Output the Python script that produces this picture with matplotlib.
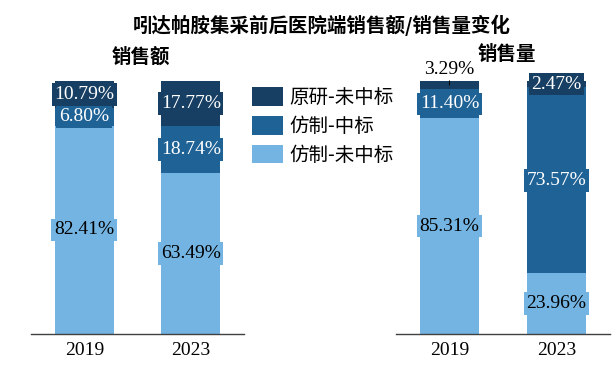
import matplotlib
matplotlib.use("Agg")
import matplotlib.pyplot as plt
import numpy as np
from matplotlib.patches import Patch

plt.rcParams['font.family'] = ['Liberation Serif', 'Noto Sans CJK SC', 'DejaVu Sans']

years = ["2019", "2023"]
series_names = ["原研-未中标", "仿制-中标", "仿制-未中标"]
# values in %, stacked top (原研-未中标) -> bottom (仿制-未中标)
sales_value_orig = [10.79, 17.77]
sales_value_gen_win = [6.80, 18.74]
sales_value_gen_lose = [82.41, 63.49]
sales_vol_orig = [3.29, 2.47]
sales_vol_gen_win = [11.40, 73.57]
sales_vol_gen_lose = [85.31, 23.96]

title = "吲达帕胺集采前后医院端销售额/销售量变化"
panel_titles = ["销售额", "销售量"]

c_dark = "#173F63"
c_mid = "#1F6296"
c_light = "#74B4E2"

fig = plt.figure(figsize=(6.16, 3.80), dpi=100)
ax1 = fig.add_axes([31/616, 1-334/380, 213/616, 253/380])
ax2 = fig.add_axes([396/616, 1-334/380, 214/616, 253/380])

W = 0.55
FS = 14
cjk = ['Noto Sans CJK SC']

def draw(ax, orig, win, lose, small_top_outside):
    x = np.arange(len(years))
    lose = np.array(lose); win = np.array(win); orig = np.array(orig)
    ax.bar(x, lose, W, color=c_light, label=series_names[2])
    ax.bar(x, win, W, bottom=lose, color=c_mid, label=series_names[1])
    ax.bar(x, orig, W, bottom=lose + win, color=c_dark, label=series_names[0])
    for i in range(len(x)):
        ax.text(x[i], lose[i] / 2, f"{lose[i]:.2f}%", ha='center', va='center',
                fontsize=FS, color='black',
                bbox=dict(facecolor=c_light, edgecolor='none', pad=2))
        ax.text(x[i], lose[i] + win[i] / 2, f"{win[i]:.2f}%", ha='center', va='center',
                fontsize=FS, color='white',
                bbox=dict(facecolor=c_mid, edgecolor='none', pad=2))
        ytop = lose[i] + win[i] + orig[i] / 2
        if small_top_outside and i in small_top_outside:
            ax.annotate(f"{orig[i]:.2f}%", xy=(x[i], ytop), xytext=(x[i], 104.5),
                        ha='center', va='center', fontsize=FS, color='black',
                        arrowprops=dict(arrowstyle='-', color='black', lw=0.8,
                                        shrinkA=4, shrinkB=0),
                        annotation_clip=False)
        else:
            ax.text(x[i], ytop, f"{orig[i]:.2f}%", ha='center', va='center',
                    fontsize=FS, color='white',
                    bbox=dict(facecolor=c_dark, edgecolor='none', pad=2))
    ax.set_xlim(-0.5, 1.5)
    ax.set_ylim(0, 100)
    ax.set_xticks(x)
    ax.set_xticklabels(years, fontsize=FS)
    ax.set_yticks([])
    for s in ['top', 'right', 'left']:
        ax.spines[s].set_visible(False)
    ax.spines['bottom'].set_color('#404040')
    ax.spines['bottom'].set_linewidth(1.0)
    ax.tick_params(axis='x', length=0, pad=6)

draw(ax1, sales_value_orig, sales_value_gen_win, sales_value_gen_lose, None)
draw(ax2, sales_vol_orig, sales_vol_gen_win, sales_vol_gen_lose, [0])

fig.text(322/616, 1-25/380, title, ha='center', va='center', fontsize=14,
         fontweight='bold', family=cjk)
fig.text(141/616, 1-57/380, panel_titles[0], ha='center', va='center',
         fontsize=14, fontweight='bold', family=cjk)
fig.text(507/616, 1-54/380, panel_titles[1], ha='center', va='center',
         fontsize=14, fontweight='bold', family=cjk)

handles = [Patch(facecolor=c_dark, label=series_names[0]),
           Patch(facecolor=c_mid, label=series_names[1]),
           Patch(facecolor=c_light, label=series_names[2])]
leg = fig.legend(handles=handles, loc='upper left',
                 bbox_to_anchor=(252/616, 1-87/380), frameon=False,
                 prop=dict(family=cjk, size=14), handlelength=1.6,
                 handleheight=1.1, handletextpad=0.3, labelspacing=0.4,
                 borderaxespad=0, borderpad=0)

fig.savefig("out.png", dpi=100)
